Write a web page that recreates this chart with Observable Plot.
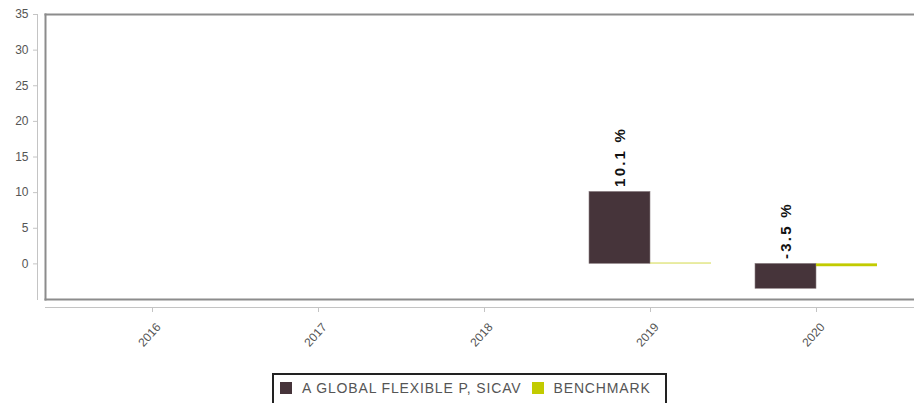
<!DOCTYPE html>
<html>
<head>
<meta charset="utf-8">
<script src="https://cdn.jsdelivr.net/npm/d3@7"></script>
<script src="https://cdn.jsdelivr.net/npm/@observablehq/plot@0.6"></script>
<style>
  html, body { margin: 0; padding: 0; background: #fff; }
  body { width: 914px; height: 403px; position: relative; overflow: hidden; font-family: "Liberation Sans", Arial, sans-serif; }
  #chart { position: absolute; left: 0; top: 0; }
  #legend { position: absolute; left: 272px; top: 373px; width: 395px; height: 34px; border: 2px solid #222; box-sizing: border-box; display: flex; align-items: flex-start; padding-top: 5px; padding-left: 6px; font-size: 14px; color: #555; letter-spacing: 0.85px; }
  .sw { width: 12px; height: 12px; display: inline-block; margin-right: 10px; }
  .item { display: flex; align-items: center; margin-right: 10px; }
  .vlabel text { letter-spacing: 2.2px; }
</style>
</head>
<body>
<div id="chart"></div>
<div id="legend"></div>
<script>
const years = ["2016", "2017", "2018", "2019", "2020"];
const fundName = "A GLOBAL FLEXIBLE P, SICAV";
const benchName = "BENCHMARK";
const fundValues = [null, null, null, 10.1, -3.5];
const benchValues = [null, null, null, 0.1, -0.4];
const yTicks = [0, 5, 10, 15, 20, 25, 30, 35];
const fundColor = "#46343a";
const benchColor = "#c2cb00";

const fundRows = years.map((year, i) => ({year, value: fundValues[i]})).filter(d => d.value != null);
const benchRows = years.map((year, i) => ({year, value: benchValues[i]})).filter(d => d.value != null);

const half = 61;

const plot = Plot.plot({
  width: 914,
  height: 365,
  marginLeft: 45,
  marginRight: 0,
  marginTop: 14,
  marginBottom: 66,
  style: {fontFamily: "'Liberation Sans', Arial, sans-serif", fontSize: "12px", background: "#fff"},
  x: {type: "band", domain: years, paddingInner: 0.268, paddingOuter: 0.24, align: 0.55, label: null, axis: null},
  y: {domain: [-5, 35], label: null, axis: null},
  marks: [
    Plot.barY(fundRows, {x: "year", y: "value", fill: fundColor, insetRight: half, insetLeft: 0, stroke: "#8a7f82", strokeWidth: 0.6}),
    Plot.barY(benchRows, {x: "year", y: "value", fill: benchColor, insetLeft: half, insetRight: 0}),
    Plot.text(fundRows, {x: "year", y: d => Math.max(0, d.value), text: d => `${d.value} %`, rotate: -90, textAnchor: "start", dx: -half / 2, dy: -5, fontSize: 15, fontWeight: "bold", fill: "#111", className: "vlabel"}),
    Plot.frame({anchor: "top", stroke: "#8c8c8c", strokeWidth: 2}),
    Plot.frame({anchor: "bottom", stroke: "#8c8c8c", strokeWidth: 2}),
    Plot.frame({anchor: "left", stroke: "#8c8c8c", strokeWidth: 2}),
    // y axis: separate line, ticks, labels
    Plot.frame({anchor: "left", dx: -8, stroke: "#c4c4c4", strokeWidth: 1}),
    Plot.axisY(yTicks, {tickSize: 4, tickPadding: 5, dx: -8, stroke: "#c4c4c4", fill: "#555", fontSize: 12, label: null}),
    // x axis: separate line, ticks, labels
    Plot.frame({anchor: "bottom", dy: 8, stroke: "#c4c4c4", strokeWidth: 1}),
    Plot.axisX({tickSize: 5, dy: 8, stroke: "#c4c4c4", text: null, label: null}),
    Plot.text(years, {x: d => d, frameAnchor: "bottom", dy: 38, rotate: -48, textAnchor: "middle", fill: "#555", fontSize: 12})
  ]
});
document.getElementById("chart").appendChild(plot);

const legend = document.getElementById("legend");
[[fundName, fundColor], [benchName, benchColor]].forEach(([name, color]) => {
  const item = document.createElement("div");
  item.className = "item";
  const sw = document.createElement("span");
  sw.className = "sw";
  sw.style.background = color;
  const t = document.createElement("span");
  t.textContent = name;
  item.appendChild(sw);
  item.appendChild(t);
  legend.appendChild(item);
});
</script>
</body>
</html>
